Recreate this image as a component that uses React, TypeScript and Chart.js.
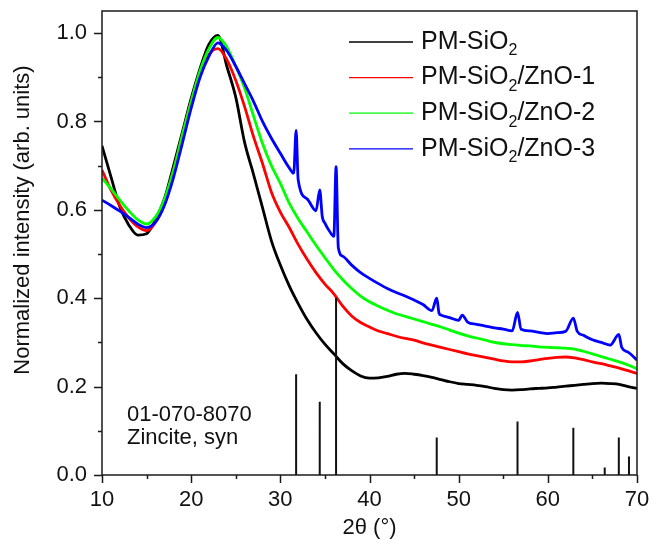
import React, { useEffect, useRef } from "react";
import { Chart, registerables } from "chart.js";

Chart.register(...registerables);

// ---------- data ----------
const twoTheta = [
  10, 11, 12, 13, 14, 15, 16, 17, 18, 19, 20, 21, 22, 23, 24, 25, 26, 27, 28, 29,
  30, 31, 32, 33, 34, 35, 36, 37, 38, 39, 40, 41, 42, 43, 44, 45, 46, 47, 48, 49,
  50, 51, 52, 53, 54, 55, 56, 57, 58, 59, 60, 61, 62, 63, 64, 65, 66, 67, 68, 69, 70,
];

const pmSiO2 = [
  0.745, 0.675, 0.607, 0.566, 0.543, 0.546, 0.578, 0.625, 0.698, 0.775, 0.852, 0.92, 0.975, 0.995, 0.925, 0.855, 0.752, 0.68, 0.605, 0.53,
  0.475, 0.428, 0.388, 0.352, 0.322, 0.296, 0.274, 0.252, 0.236, 0.224, 0.219, 0.22, 0.223, 0.228, 0.23, 0.228, 0.225, 0.221, 0.216, 0.211,
  0.207, 0.205, 0.203, 0.2, 0.196, 0.193, 0.192, 0.193, 0.195, 0.196, 0.197, 0.199, 0.201, 0.203, 0.205, 0.207, 0.208, 0.207, 0.205, 0.2, 0.196,
];

const znO1 = [
  0.69, 0.645, 0.61, 0.582, 0.562, 0.553, 0.572, 0.618, 0.688, 0.768, 0.845, 0.91, 0.952, 0.965, 0.94, 0.893, 0.833, 0.765, 0.705, 0.64,
  0.595, 0.56, 0.522, 0.488, 0.458, 0.432, 0.41, 0.382, 0.36, 0.345, 0.335, 0.326, 0.32, 0.314, 0.309, 0.305, 0.299, 0.294, 0.289, 0.284,
  0.279, 0.274, 0.27, 0.266, 0.262, 0.258, 0.256, 0.256, 0.258, 0.261, 0.264, 0.266, 0.267, 0.265, 0.261, 0.256, 0.252, 0.247, 0.242, 0.236, 0.23,
];

const znO2 = [
  0.672, 0.648, 0.622, 0.598, 0.578, 0.568, 0.584, 0.624, 0.688, 0.768, 0.845, 0.915, 0.965, 0.99, 0.968, 0.925, 0.875, 0.812, 0.75, 0.7,
  0.66, 0.615, 0.58, 0.55, 0.52, 0.492, 0.465, 0.442, 0.422, 0.405, 0.392, 0.382, 0.373, 0.365, 0.359, 0.353, 0.347, 0.341, 0.335, 0.328,
  0.321, 0.315, 0.31, 0.305, 0.3, 0.297, 0.295, 0.293, 0.292, 0.29, 0.289, 0.288, 0.287, 0.285, 0.28, 0.274, 0.268, 0.262, 0.256, 0.249, 0.24,
];

const twoThetaZnO3 = [
  10, 11, 12, 13, 14, 15, 16, 17, 18, 19, 20, 21, 22, 23, 24, 25, 26, 27, 28, 29, 30, 31,
  31.5, 31.77, 32, 33, 34, 34.42, 34.7, 35, 35.5, 36, 36.25, 36.5, 37, 38, 39, 40, 41, 42, 43, 44, 45, 46, 47,
  47.54, 47.8, 48, 49, 50, 50.4, 51, 52, 53, 54, 55, 56, 56.6, 57, 58, 59, 60, 61, 62, 62.86, 63.3,
  64, 65, 66, 67, 67.96, 68.3, 69, 70,
];

const znO3 = [
  0.622, 0.61, 0.597, 0.583, 0.568, 0.56, 0.572, 0.61, 0.672, 0.75, 0.83, 0.9, 0.948, 0.978, 0.96, 0.925, 0.885, 0.845, 0.8, 0.762, 0.728, 0.695,
  0.683, 0.78, 0.668, 0.625, 0.598, 0.645, 0.585, 0.57, 0.552, 0.54, 0.698, 0.515, 0.495, 0.475, 0.458, 0.445, 0.433, 0.422, 0.413, 0.405, 0.396, 0.386, 0.372,
  0.4, 0.366, 0.362, 0.356, 0.35, 0.362, 0.346, 0.341, 0.337, 0.333, 0.33, 0.326, 0.368, 0.33, 0.326, 0.323, 0.32, 0.322, 0.325, 0.355, 0.325,
  0.316, 0.306, 0.3, 0.294, 0.318, 0.288, 0.278, 0.26,
];

// Zincite reference pattern (01-070-8070)
const stickPositions = [31.77, 34.42, 36.25, 47.54, 56.6, 62.86, 66.38, 67.96, 69.1];
const stickHeights = [0.228, 0.166, 0.401, 0.085, 0.121, 0.107, 0.017, 0.085, 0.042];

const seriesLabels = ["PM-SiO₂", "PM-SiO₂/ZnO-1", "PM-SiO₂/ZnO-2", "PM-SiO₂/ZnO-3"];
const seriesColors = ["#000000", "#ff0000", "#00ff00", "#0000ff"];

const xTickValues = [10, 15, 20, 25, 30, 35, 40, 45, 50, 55, 60, 65, 70];
const yTickValues = [0, 0.1, 0.2, 0.3, 0.4, 0.5, 0.6, 0.7, 0.8, 0.9, 1.0];

const xTitle = "2θ (°)";
const yTitle = "Normalized intensity (arb. units)";
const cardLines = ["01-070-8070", "Zincite, syn"];

const FONT = "'Liberation Sans', Arial, Helvetica, sans-serif";

const pairs = (xs: number[], ys: number[]) => xs.map((x, i) => ({ x, y: ys[i] }));

function drawSubText(ctx: CanvasRenderingContext2D, text: string, x: number, y: number, size: number) {
  const parts = text.split("₂");
  let cx = x;
  parts.forEach((p, i) => {
    ctx.font = `${size}px ${FONT}`;
    ctx.fillText(p, cx, y);
    cx += ctx.measureText(p).width;
    if (i < parts.length - 1) {
      const s = Math.round(size * 0.64);
      ctx.font = `${s}px ${FONT}`;
      ctx.fillText("2", cx, y + size * 0.36);
      cx += ctx.measureText("2").width;
    }
  });
}

const decor = {
  id: "decor",
  afterDraw(chart: any) {
    const { ctx, chartArea: ca, scales } = chart;
    const xs = scales.x;
    const ys = scales.y;
    ctx.save();
    // frame
    ctx.strokeStyle = "#1a1a1a";
    ctx.lineWidth = 1.5;
    ctx.strokeRect(ca.left, ca.top, ca.right - ca.left, ca.bottom - ca.top);
    // ticks
    ctx.lineWidth = 1.5;
    ctx.beginPath();
    xTickValues.forEach((v) => {
      const px = Math.round(xs.getPixelForValue(v)) + 0.5;
      const len = v % 10 === 0 ? 8 : 4;
      ctx.moveTo(px, ca.bottom);
      ctx.lineTo(px, ca.bottom + len);
    });
    yTickValues.forEach((v) => {
      const py = Math.round(ys.getPixelForValue(v)) + 0.5;
      const len = Math.round(v * 10) % 2 === 0 ? 8 : 4;
      ctx.moveTo(ca.left, py);
      ctx.lineTo(ca.left - len, py);
    });
    ctx.stroke();

    // axis titles
    ctx.fillStyle = "#111";
    ctx.font = `22px ${FONT}`;
    ctx.textAlign = "center";
    ctx.textBaseline = "middle";
    ctx.fillText(xTitle, (ca.left + ca.right) / 2, 528);
    ctx.save();
    ctx.translate(23, 220);
    ctx.rotate(-Math.PI / 2);
    ctx.fillText(yTitle, 0, 0);
    ctx.restore();

    // reference card text
    ctx.textAlign = "left";
    ctx.textBaseline = "alphabetic";
    ctx.font = `22px ${FONT}`;
    ctx.fillText(cardLines[0], ca.left + 25, 421);
    ctx.fillText(cardLines[1], ca.left + 25, 444);

    // legend
    ctx.textBaseline = "middle";
    seriesLabels.forEach((lab, i) => {
      const y = ca.top + 31 + i * 35.6;
      ctx.strokeStyle = seriesColors[i];
      ctx.lineWidth = 1.3;
      ctx.beginPath();
      ctx.moveTo(ca.right - 288, y);
      ctx.lineTo(ca.right - 224, y);
      ctx.stroke();
      ctx.fillStyle = "#111";
      drawSubText(ctx, lab, ca.right - 216, y, 25);
    });
    ctx.restore();
  },
};

const zeroPad = (s: any) => {
  s.paddingLeft = 0;
  s.paddingRight = 0;
  s.paddingTop = 0;
  s.paddingBottom = 0;
};

export default function App() {
  const ref = useRef<HTMLCanvasElement>(null);

  useEffect(() => {
    if (!ref.current) return;
    const sticks: any[] = [];
    stickPositions.forEach((p, i) => {
      sticks.push({ x: p, y: 0 }, { x: p, y: stickHeights[i] }, { x: p, y: null });
    });
    const seriesData = [
      pairs(twoTheta, pmSiO2),
      pairs(twoTheta, znO1),
      pairs(twoTheta, znO2),
      pairs(twoThetaZnO3, znO3),
    ];
    const chart = new Chart(ref.current, {
      type: "line",
      data: {
        datasets: [
          ...seriesData.map((d, i) => ({
            label: seriesLabels[i],
            data: d,
            borderColor: seriesColors[i],
            backgroundColor: seriesColors[i],
            borderWidth: 2.8,
            pointRadius: 0,
            cubicInterpolationMode: "monotone" as const,
            order: 4 - i,
          })),
          {
            label: "01-070-8070",
            data: sticks,
            borderColor: "#111",
            backgroundColor: "#111",
            borderWidth: 2,
            pointRadius: 0,
            spanGaps: false,
            tension: 0,
            order: 0,
          },
        ],
      },
      options: {
        responsive: false,
        devicePixelRatio: 1,
        animation: false,
        layout: { padding: { left: 0, right: 14, top: 11, bottom: 0 } },
        plugins: { legend: { display: false }, tooltip: { enabled: false } },
        scales: {
          x: {
            type: "linear",
            min: 10,
            max: 70,
            grid: { display: false, drawTicks: false },
            border: { display: false },
            afterBuildTicks: (s: any) => {
              s.ticks = xTickValues.map((v) => ({ value: v }));
            },
            afterFit: (s: any) => {
              s.height = 66;
              zeroPad(s);
            },
            ticks: {
              autoSkip: false,
              maxRotation: 0,
              padding: 12,
              color: "#111",
              font: { family: FONT, size: 22 },
              callback: (v: any) => (Number(v) % 10 === 0 ? String(v) : ""),
            },
          },
          y: {
            type: "linear",
            min: 0,
            max: 1.05,
            grid: { display: false, drawTicks: false },
            border: { display: false },
            afterBuildTicks: (s: any) => {
              s.ticks = yTickValues.map((v) => ({ value: v }));
            },
            afterFit: (s: any) => {
              s.width = 102;
              zeroPad(s);
            },
            ticks: {
              autoSkip: false,
              padding: 15,
              color: "#111",
              font: { family: FONT, size: 22 },
              callback: (v: any) => (Math.round(Number(v) * 10) % 2 === 0 ? Number(v).toFixed(1) : ""),
            },
          },
        },
      },
      plugins: [decor],
    });
    return () => chart.destroy();
  }, []);

  return (
    <div style={{ position: "absolute", left: 0, top: 0, width: 651, height: 541 }}>
      <canvas ref={ref} width={651} height={541} style={{ display: "block", width: 651, height: 541 }} />
    </div>
  );
}
